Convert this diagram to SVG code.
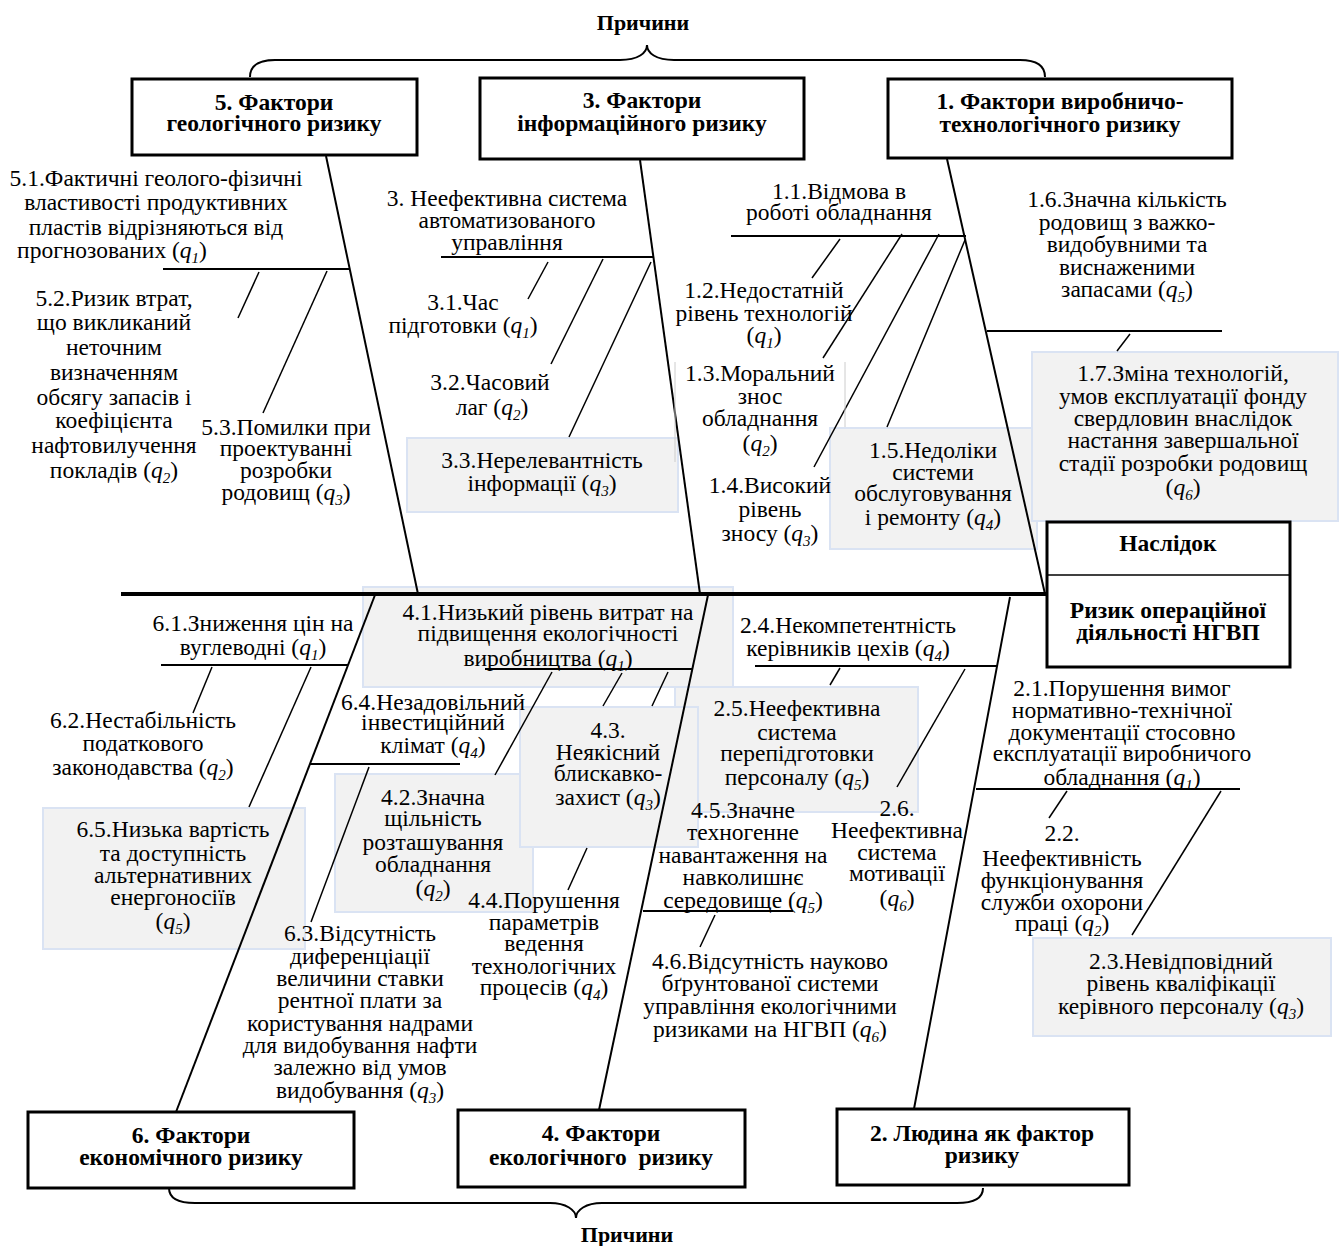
<svg xmlns="http://www.w3.org/2000/svg" width="1342" height="1246" viewBox="0 0 1342 1246">
<style>
.t{font-family:"Liberation Serif","DejaVu Serif",serif;font-size:23.5px;text-anchor:middle;fill:#000}
.b{font-weight:bold;font-size:23.5px}
.p{font-size:22px}
.q{font-style:italic}
.s{font-style:italic;font-size:15px}
.box{fill:#fff;stroke:#000;stroke-width:3}
.gbox{fill:#f2f2f2;stroke:#dae3f3;stroke-width:2}
.bone{stroke:#000;stroke-width:2;fill:none}
.sub{stroke:#000;stroke-width:2}
.tick{stroke:#000;stroke-width:1.5}
.thin{stroke:#cccccc;stroke-width:1}
</style>
<rect width="1342" height="1246" fill="#fff"/>

<!-- gray-box nodes -->
<g id="n33"><rect class="gbox" x="407" y="438" width="271" height="74"/>
<text class="t"><tspan x="542" y="468">3.3.Нерелевантність</tspan><tspan x="542" y="491">інформації (<tspan class="q">q</tspan><tspan class="s" dy="5">3</tspan><tspan dy="-5">)</tspan></tspan></text></g>
<g id="n15"><rect class="gbox" x="830" y="428" width="207" height="121"/>
<text class="t"><tspan x="933" y="458">1.5.Недоліки</tspan><tspan x="933" y="480">системи</tspan><tspan x="933" y="501">обслуговування</tspan><tspan x="933" y="525">і ремонту (<tspan class="q">q</tspan><tspan class="s" dy="5">4</tspan><tspan dy="-5">)</tspan></tspan></text></g>
<g id="n17"><rect class="gbox" x="1032" y="352" width="306" height="169"/>
<text class="t"><tspan x="1183" y="381">1.7.Зміна технологій,</tspan><tspan x="1183" y="404">умов експлуатації фонду</tspan><tspan x="1183" y="426">свердловин внаслідок</tspan><tspan x="1183" y="448">настання завершальної</tspan><tspan x="1183" y="471">стадії розробки родовищ</tspan><tspan x="1183" y="495">(<tspan class="q">q</tspan><tspan class="s" dy="5">6</tspan><tspan dy="-5">)</tspan></tspan></text></g>
<g id="n41"><rect class="gbox" x="363" y="587" width="370" height="100"/>
<text class="t"><tspan x="548" y="620">4.1.Низький рівень витрат на</tspan><tspan x="548" y="641">підвищення екологічності</tspan><tspan x="548" y="666">виробництва (<tspan class="q">q</tspan><tspan class="s" dy="5">1</tspan><tspan dy="-5">)</tspan></tspan></text></g>
<g id="n25"><rect class="gbox" x="675" y="687" width="243" height="125"/>
<text class="t"><tspan x="797" y="716">2.5.Неефективна</tspan><tspan x="797" y="740">система</tspan><tspan x="797" y="761">перепідготовки</tspan><tspan x="797" y="785">персоналу (<tspan class="q">q</tspan><tspan class="s" dy="5">5</tspan><tspan dy="-5">)</tspan></tspan></text></g>
<g id="n42"><rect class="gbox" x="335" y="774" width="198" height="138"/>
<text class="t"><tspan x="433" y="805">4.2.Значна</tspan><tspan x="433" y="826">щільність</tspan><tspan x="433" y="850">розташування</tspan><tspan x="433" y="872">обладнання</tspan><tspan x="433" y="896">(<tspan class="q">q</tspan><tspan class="s" dy="5">2</tspan><tspan dy="-5">)</tspan></tspan></text></g>
<g id="n43"><rect class="gbox" x="520" y="707" width="178" height="140"/>
<text class="t"><tspan x="608" y="738">4.3.</tspan><tspan x="608" y="760">Неякісний</tspan><tspan x="608" y="781">блискавко-</tspan><tspan x="608" y="805">захист (<tspan class="q">q</tspan><tspan class="s" dy="5">3</tspan><tspan dy="-5">)</tspan></tspan></text></g>
<g id="n65"><rect class="gbox" x="43" y="808" width="262" height="141"/>
<text class="t"><tspan x="173" y="837">6.5.Низька вартість</tspan><tspan x="173" y="861">та доступність</tspan><tspan x="173" y="883">альтернативних</tspan><tspan x="173" y="905">енергоносіїв</tspan><tspan x="173" y="929">(<tspan class="q">q</tspan><tspan class="s" dy="5">5</tspan><tspan dy="-5">)</tspan></tspan></text></g>
<g id="n23"><rect class="gbox" x="1033" y="938" width="298" height="98"/>
<text class="t"><tspan x="1181" y="969">2.3.Невідповідний</tspan><tspan x="1181" y="991">рівень кваліфікації</tspan><tspan x="1181" y="1014">керівного персоналу (<tspan class="q">q</tspan><tspan class="s" dy="5">3</tspan><tspan dy="-5">)</tspan></tspan></text></g>

<!-- connectors -->
<g id="connectors">
<line x1="121" y1="594" x2="1047" y2="594" stroke="#000" stroke-width="4"/>
<line class="bone" x1="326" y1="156" x2="418" y2="594"/>
<line class="bone" x1="640" y1="160" x2="700" y2="594"/>
<line class="bone" x1="947" y1="159" x2="1045" y2="594"/>
<line class="bone" x1="375" y1="595" x2="176" y2="1112"/>
<line class="bone" x1="708" y1="595" x2="599" y2="1110"/>
<line class="bone" x1="1010" y1="597" x2="914" y2="1109"/>
<line class="sub" x1="163" y1="269" x2="349" y2="269"/>
<line class="sub" x1="441" y1="257" x2="653" y2="257"/>
<line class="sub" x1="731" y1="236" x2="966" y2="236"/>
<line class="sub" x1="987" y1="331" x2="1222" y2="331"/>
<line class="sub" x1="161" y1="665" x2="348" y2="665"/>
<line class="sub" x1="310" y1="764" x2="460" y2="764"/>
<line class="sub" x1="485" y1="669" x2="692" y2="669"/>
<line class="sub" x1="643" y1="911" x2="793" y2="911"/>
<line class="sub" x1="755" y1="666" x2="997" y2="666"/>
<line class="sub" x1="976" y1="789" x2="1240" y2="789"/>
<line class="tick" x1="259" y1="272" x2="238" y2="318"/>
<line class="tick" x1="327" y1="271" x2="263" y2="413"/>
<line class="tick" x1="548" y1="262" x2="528" y2="299"/>
<line class="tick" x1="603" y1="259" x2="551" y2="364"/>
<line class="tick" x1="651" y1="262" x2="569" y2="437"/>
<line class="tick" x1="840" y1="239" x2="812" y2="278"/>
<line class="tick" x1="902" y1="234" x2="823" y2="358"/>
<line class="tick" x1="939" y1="234" x2="814" y2="467"/>
<line class="tick" x1="965" y1="240" x2="887" y2="427"/>
<line class="tick" x1="1130" y1="334" x2="1117" y2="351"/>
<line class="tick" x1="212" y1="667" x2="193" y2="713"/>
<line class="tick" x1="311" y1="667" x2="249" y2="807"/>
<line class="tick" x1="369" y1="767" x2="311" y2="922"/>
<line class="tick" x1="552" y1="672" x2="495" y2="775"/>
<line class="tick" x1="622" y1="673" x2="603" y2="706"/>
<line class="tick" x1="668" y1="672" x2="652" y2="706"/>
<line class="tick" x1="587" y1="848" x2="568" y2="890"/>
<line class="tick" x1="840" y1="668" x2="830" y2="685"/>
<line class="tick" x1="965" y1="669" x2="897" y2="787"/>
<line class="tick" x1="715" y1="915" x2="700" y2="947"/>
<line class="tick" x1="1067" y1="791" x2="1049" y2="818"/>
<line class="tick" x1="1221" y1="791" x2="1132" y2="935"/>
<path class="bone" stroke-width="1.5" d="M250,77 C250,66 258,60 275,60 L620,60 C638,60 647,53 647,45 C647,53 656,60 674,60 L1020,60 C1037,60 1045,66 1045,77"/>
<path class="bone" stroke-width="1.5" d="M169,1188 C169,1198 178,1203 195,1203 L550,1203 C566,1203 576,1210 576,1218 C576,1210 586,1203 602,1203 L957,1203 C974,1203 983,1198 983,1188"/>
</g>

<!-- main boxes -->
<g id="box5"><rect class="box" x="132" y="79" width="285" height="76"/>
<text class="t b"><tspan x="274" y="110">5. Фактори</tspan><tspan x="274" y="131">геологічного ризику</tspan></text></g>
<g id="box3"><rect class="box" x="480" y="78" width="324" height="81"/>
<text class="t b"><tspan x="642" y="108">3. Фактори</tspan><tspan x="642" y="131">інформаційного ризику</tspan></text></g>
<g id="box1"><rect class="box" x="888" y="79" width="344" height="79"/>
<text class="t b"><tspan x="1060" y="109">1. Фактори виробничо-</tspan><tspan x="1060" y="132">технологічного ризику</tspan></text></g>
<g id="effect"><rect class="box" x="1047" y="522" width="243" height="145"/>
<line x1="1047" y1="575" x2="1290" y2="575" stroke="#000" stroke-width="1.5"/>
<text class="t b" x="1168" y="551">Наслідок</text>
<text class="t b"><tspan x="1168" y="618">Ризик операційної</tspan><tspan x="1168" y="640">діяльності НГВП</tspan></text></g>
<g id="box6"><rect class="box" x="28" y="1112" width="326" height="76"/>
<text class="t b"><tspan x="191" y="1143">6. Фактори</tspan><tspan x="191" y="1165">економічного ризику</tspan></text></g>
<g id="box4"><rect class="box" x="458" y="1110" width="287" height="77"/>
<text class="t b" style="white-space:pre"><tspan x="601" y="1141">4. Фактори</tspan><tspan x="601" y="1165">екологічного  ризику</tspan></text></g>
<g id="box2"><rect class="box" x="837" y="1109" width="292" height="76"/>
<text class="t b"><tspan x="982" y="1141">2. Людина як фактор</tspan><tspan x="982" y="1163">ризику</tspan></text></g>
<g id="titleTop"><text class="t b p" x="643" y="30">Причини</text></g>
<g id="titleBottom"><text class="t b p" x="627" y="1242">Причини</text></g>

<!-- plain text nodes -->
<g id="n51"><text class="t"><tspan x="156" y="186">5.1.Фактичні геолого-фізичні</tspan><tspan x="156" y="210">властивості продуктивних</tspan><tspan x="156" y="235">пластів відрізняються від</tspan><tspan x="112" y="258">прогнозованих (<tspan class="q">q</tspan><tspan class="s" dy="5">1</tspan><tspan dy="-5">)</tspan></tspan></text></g>
<g id="n52"><text class="t"><tspan x="114" y="306">5.2.Ризик втрат,</tspan><tspan x="114" y="330">що викликаний</tspan><tspan x="114" y="355">неточним</tspan><tspan x="114" y="380">визначенням</tspan><tspan x="114" y="405">обсягу запасів і</tspan><tspan x="114" y="428">коефіцієнта</tspan><tspan x="114" y="453">нафтовилучення</tspan><tspan x="114" y="478">покладів (<tspan class="q">q</tspan><tspan class="s" dy="5">2</tspan><tspan dy="-5">)</tspan></tspan></text></g>
<g id="n53"><text class="t"><tspan x="286" y="435">5.3.Помилки при</tspan><tspan x="286" y="456">проектуванні</tspan><tspan x="286" y="478">розробки</tspan><tspan x="286" y="500">родовищ (<tspan class="q">q</tspan><tspan class="s" dy="5">3</tspan><tspan dy="-5">)</tspan></tspan></text></g>
<g id="n3"><text class="t"><tspan x="507" y="206">3. Неефективна система</tspan><tspan x="507" y="228">автоматизованого</tspan><tspan x="507" y="250">управління</tspan></text></g>
<g id="n31"><text class="t"><tspan x="463" y="310">3.1.Час</tspan><tspan x="463" y="333">підготовки (<tspan class="q">q</tspan><tspan class="s" dy="5">1</tspan><tspan dy="-5">)</tspan></tspan></text></g>
<g id="n32"><text class="t"><tspan x="490" y="390">3.2.Часовий</tspan><tspan x="492" y="415">лаг (<tspan class="q">q</tspan><tspan class="s" dy="5">2</tspan><tspan dy="-5">)</tspan></tspan></text></g>
<g id="n11"><text class="t"><tspan x="839" y="199">1.1.Відмова в</tspan><tspan x="839" y="220">роботі обладнання</tspan></text></g>
<g id="n12"><text class="t"><tspan x="764" y="298">1.2.Недостатній</tspan><tspan x="764" y="321">рівень технологій</tspan><tspan x="764" y="343">(<tspan class="q">q</tspan><tspan class="s" dy="5">1</tspan><tspan dy="-5">)</tspan></tspan></text></g>
<g id="n13">
<line class="thin" x1="675" y1="362" x2="675" y2="462"/>
<line class="thin" x1="845" y1="362" x2="845" y2="427"/>
<text class="t"><tspan x="760" y="381">1.3.Моральний</tspan><tspan x="760" y="404">знос</tspan><tspan x="760" y="426">обладнання</tspan><tspan x="760" y="451">(<tspan class="q">q</tspan><tspan class="s" dy="5">2</tspan><tspan dy="-5">)</tspan></tspan></text></g>
<g id="n14"><text class="t"><tspan x="770" y="493">1.4.Високий</tspan><tspan x="770" y="517">рівень</tspan><tspan x="770" y="541">зносу (<tspan class="q">q</tspan><tspan class="s" dy="5">3</tspan><tspan dy="-5">)</tspan></tspan></text></g>
<g id="n16"><text class="t"><tspan x="1127" y="207">1.6.Значна кількість</tspan><tspan x="1127" y="230">родовищ з важко-</tspan><tspan x="1127" y="252">видобувними та</tspan><tspan x="1127" y="275">виснаженими</tspan><tspan x="1127" y="297">запасами (<tspan class="q">q</tspan><tspan class="s" dy="5">5</tspan><tspan dy="-5">)</tspan></tspan></text></g>
<g id="n61"><text class="t"><tspan x="253" y="631">6.1.Зниження цін на</tspan><tspan x="253" y="655">вуглеводні (<tspan class="q">q</tspan><tspan class="s" dy="5">1</tspan><tspan dy="-5">)</tspan></tspan></text></g>
<g id="n62"><text class="t"><tspan x="143" y="728">6.2.Нестабільність</tspan><tspan x="143" y="751">податкового</tspan><tspan x="143" y="775">законодавства (<tspan class="q">q</tspan><tspan class="s" dy="5">2</tspan><tspan dy="-5">)</tspan></tspan></text></g>
<g id="n64"><text class="t"><tspan x="433" y="710">6.4.Незадовільний</tspan><tspan x="433" y="730">інвестиційний</tspan><tspan x="433" y="753">клімат (<tspan class="q">q</tspan><tspan class="s" dy="5">4</tspan><tspan dy="-5">)</tspan></tspan></text></g>
<g id="n63"><text class="t"><tspan x="360" y="941">6.3.Відсутність</tspan><tspan x="360" y="964">диференціації</tspan><tspan x="360" y="986">величини ставки</tspan><tspan x="360" y="1008">рентної плати за</tspan><tspan x="360" y="1031">користування надрами</tspan><tspan x="360" y="1053">для видобування нафти</tspan><tspan x="360" y="1075">залежно від умов</tspan><tspan x="360" y="1098">видобування (<tspan class="q">q</tspan><tspan class="s" dy="5">3</tspan><tspan dy="-5">)</tspan></tspan></text></g>
<g id="n44"><text class="t"><tspan x="544" y="908">4.4.Порушення</tspan><tspan x="544" y="930">параметрів</tspan><tspan x="544" y="951">ведення</tspan><tspan x="544" y="974">технологічних</tspan><tspan x="544" y="995">процесів (<tspan class="q">q</tspan><tspan class="s" dy="5">4</tspan><tspan dy="-5">)</tspan></tspan></text></g>
<g id="n24"><text class="t"><tspan x="848" y="633">2.4.Некомпетентність</tspan><tspan x="848" y="656">керівників цехів (<tspan class="q">q</tspan><tspan class="s" dy="5">4</tspan><tspan dy="-5">)</tspan></tspan></text></g>
<g id="n45"><text class="t"><tspan x="743" y="818">4.5.Значне</tspan><tspan x="743" y="840">техногенне</tspan><tspan x="743" y="863">навантаження на</tspan><tspan x="743" y="885">навколишнє</tspan><tspan x="743" y="908">середовище (<tspan class="q">q</tspan><tspan class="s" dy="5">5</tspan><tspan dy="-5">)</tspan></tspan></text></g>
<g id="n26"><text class="t"><tspan x="897" y="816">2.6.</tspan><tspan x="897" y="838">Неефективна</tspan><tspan x="897" y="860">система</tspan><tspan x="897" y="881">мотивації</tspan><tspan x="897" y="906">(<tspan class="q">q</tspan><tspan class="s" dy="5">6</tspan><tspan dy="-5">)</tspan></tspan></text></g>
<g id="n46"><text class="t"><tspan x="770" y="969">4.6.Відсутність науково</tspan><tspan x="770" y="991">бґрунтованої системи</tspan><tspan x="770" y="1014">управління екологічними</tspan><tspan x="770" y="1037">ризиками на НГВП (<tspan class="q">q</tspan><tspan class="s" dy="5">6</tspan><tspan dy="-5">)</tspan></tspan></text></g>
<g id="n21"><text class="t"><tspan x="1122" y="696">2.1.Порушення вимог</tspan><tspan x="1122" y="718">нормативно-технічної</tspan><tspan x="1122" y="740">документації стосовно</tspan><tspan x="1122" y="761">експлуатації виробничого</tspan><tspan x="1122" y="785">обладнання (<tspan class="q">q</tspan><tspan class="s" dy="5">1</tspan><tspan dy="-5">)</tspan></tspan></text></g>
<g id="n22"><text class="t"><tspan x="1062" y="841">2.2.</tspan><tspan x="1062" y="866">Неефективність</tspan><tspan x="1062" y="888">функціонування</tspan><tspan x="1062" y="910">служби охорони</tspan><tspan x="1062" y="931">праці (<tspan class="q">q</tspan><tspan class="s" dy="5">2</tspan><tspan dy="-5">)</tspan></tspan></text></g>
</svg>
